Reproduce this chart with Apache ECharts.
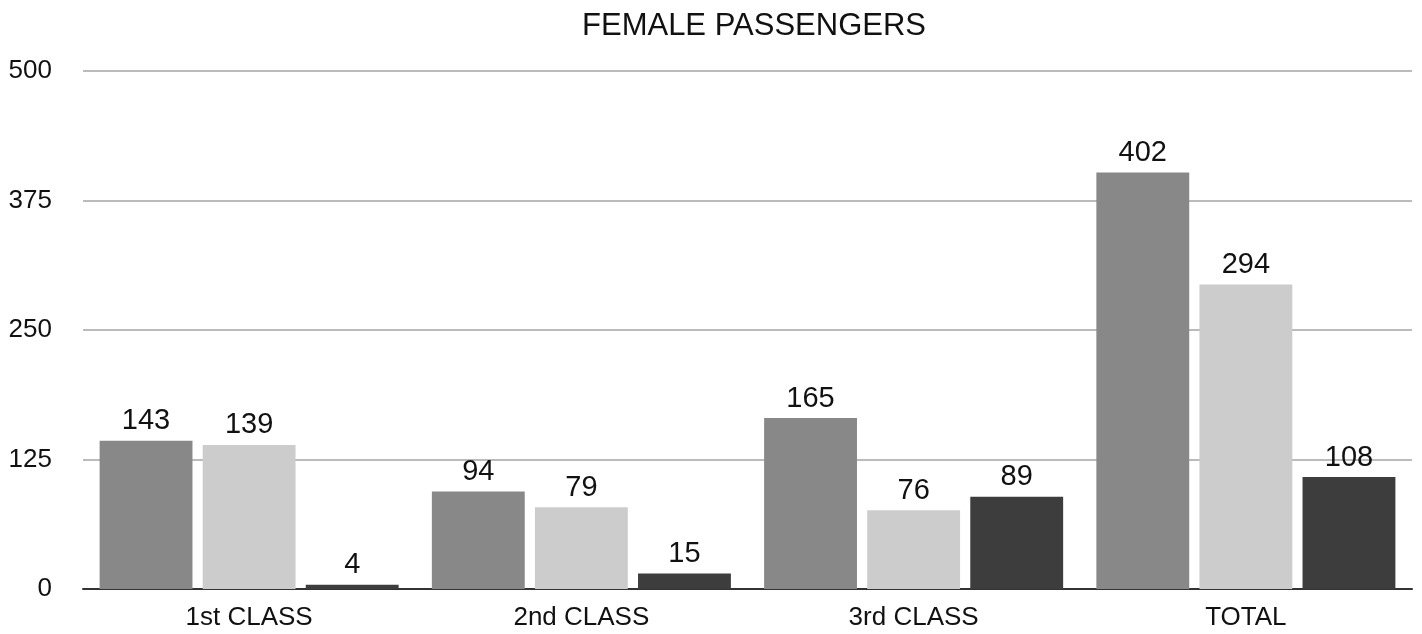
<!DOCTYPE html>
<html>
<head>
<meta charset="utf-8">
<script src="https://cdn.jsdelivr.net/npm/echarts@6/dist/echarts.min.js"></script>
<style>
html, body { margin: 0; padding: 0; background: #fff; }
#chart { width: 1422px; height: 634px; }
</style>
</head>
<body>
<div id="chart"></div>
<script>
var categories = ['1st CLASS', '2nd CLASS', '3rd CLASS', 'TOTAL'];
var seriesA = [143, 94, 165, 402];
var seriesB = [139, 79, 76, 294];
var seriesC = [4, 15, 89, 108];
var colors = ['#888888', '#cccccc', '#3d3d3d'];

var font = 'Helvetica, "Liberation Sans", Arial, sans-serif';
var chart = echarts.init(document.getElementById('chart'));

function makeSeries(data, color) {
    return {
        type: 'bar',
        data: data,
        barGap: '11%',
        barCategoryGap: '10%',
        itemStyle: {color: color},
        label: {
            show: true,
            position: 'top',
            distance: 5,
            color: '#111',
            fontSize: 29,
            fontFamily: font
        }
    };
}

chart.setOption({
    animation: false,
    title: {
        text: 'FEMALE PASSENGERS',
        left: 749,
        textAlign: 'center',
        top: 6,
        textStyle: {color: '#111', fontSize: 31, fontWeight: 'normal', fontFamily: font}
    },
    grid: {left: 83, right: 10, top: 71, bottom: 45},
    xAxis: {
        type: 'category',
        data: categories,
        axisTick: {show: false},
        axisLine: {lineStyle: {color: '#333', width: 2}},
        axisLabel: {color: '#111', fontSize: 26, fontFamily: font, margin: 16}
    },
    yAxis: {
        type: 'value',
        min: 0,
        max: 500,
        interval: 125,
        axisLabel: {color: '#111', fontSize: 26, fontFamily: font, margin: 31},
        splitLine: {lineStyle: {color: '#bbbbbb', width: 2}}
    },
    series: [
        makeSeries(seriesA, colors[0]),
        makeSeries(seriesB, colors[1]),
        makeSeries(seriesC, colors[2])
    ]
});
</script>
</body>
</html>
